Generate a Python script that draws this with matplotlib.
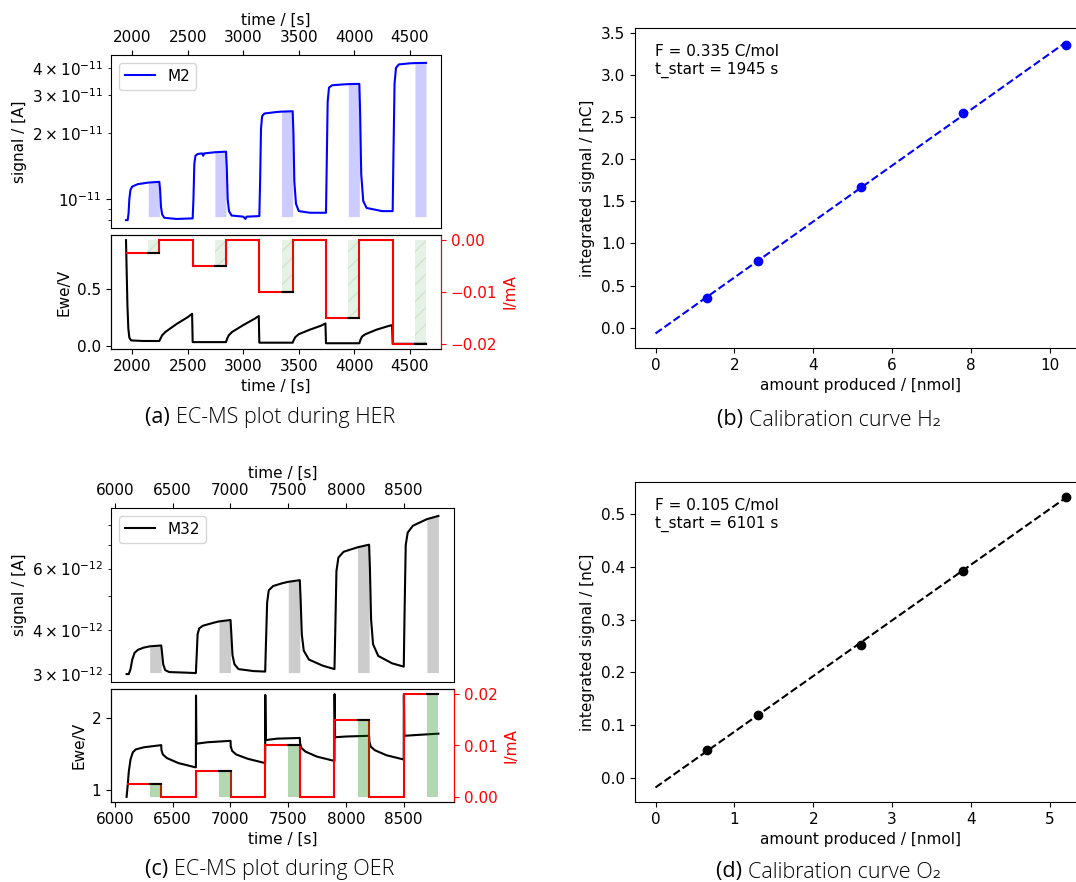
import numpy as np
import matplotlib
matplotlib.use("Agg")
import matplotlib.pyplot as plt

plt.rcParams["font.size"] = 11

# ---- HER (M2) ----
her_t = [1945, 1960, 1968, 1975, 1985, 2000, 2050, 2145, 2245, 2252, 2260, 2270, 2290, 2400, 2545,
         2552, 2560, 2570, 2590, 2630, 2640, 2648, 2745, 2845, 2852, 2860, 2872, 2895, 3000, 3020, 3030, 3145,
         3152, 3160, 3170, 3190, 3300, 3345, 3445, 3452, 3460, 3475, 3500, 3600, 3745,
         3752, 3760, 3772, 3800, 3900, 3945, 4045, 4052, 4062, 4080, 4110, 4250, 4345,
         4352, 4362, 4375, 4400, 4500, 4545, 4645]
her_ms = [0.80, 0.80, 0.86, 1.00, 1.10, 1.14, 1.17, 1.19, 1.20, 1.10, 0.92, 0.85, 0.82, 0.81, 0.815,
          1.00, 1.45, 1.58, 1.61, 1.62, 1.58, 1.62, 1.64, 1.65, 1.40, 1.00, 0.88, 0.84, 0.83, 0.81, 0.83, 0.835,
          1.20, 2.10, 2.40, 2.47, 2.51, 2.52, 2.53, 2.00, 1.20, 0.95, 0.88, 0.865, 0.865,
          1.50, 2.80, 3.25, 3.33, 3.36, 3.37, 3.38, 2.50, 1.30, 0.98, 0.91, 0.88, 0.88,
          1.60, 3.40, 4.00, 4.15, 4.20, 4.21, 4.22]
her_ms = np.array(her_ms) * 1e-11
her_ms_base = 0.83e-11

her_ewe_t = [1945, 1950, 1958, 1966, 1975, 1990, 2100, 2245, 2255, 2270, 2300, 2400, 2500, 2540,
             2545, 2845, 2855, 2870, 2900, 3000, 3100, 3140, 3145, 3445, 3455, 3470, 3500, 3600, 3700, 3740,
             3745, 4045, 4055, 4070, 4100, 4200, 4300, 4340, 4345, 4645]
her_ewe = [0.93, 0.70, 0.35, 0.15, 0.07, 0.045, 0.04, 0.04, 0.06, 0.09, 0.12, 0.19, 0.25, 0.28,
           0.03, 0.03, 0.06, 0.09, 0.12, 0.18, 0.235, 0.26, 0.025, 0.025, 0.05, 0.075, 0.10, 0.14, 0.175, 0.195,
           0.02, 0.02, 0.05, 0.08, 0.10, 0.14, 0.17, 0.18, 0.015, 0.015]

her_edges = [1945, 2245, 2545, 2845, 3145, 3445, 3745, 4045, 4345, 4645]
her_current = [-0.0025, 0, -0.005, 0, -0.01, 0, -0.015, 0, -0.02]
her_win = [(2145, 2245), (2745, 2845), (3345, 3445), (3945, 4045), (4545, 4645)]
her_win_i = [-0.0025, -0.005, -0.01, -0.015, -0.02]

# ---- OER (M32) ----
oer_t = [6101, 6120, 6135, 6150, 6170, 6200, 6250, 6301, 6401, 6408, 6418, 6435, 6470, 6600, 6701,
         6708, 6716, 6730, 6760, 6850, 6901, 7001, 7008, 7018, 7035, 7070, 7200, 7301,
         7308, 7318, 7332, 7370, 7450, 7501, 7601, 7608, 7618, 7635, 7680, 7800, 7901,
         7908, 7918, 7935, 7980, 8101, 8201, 8208, 8218, 8235, 8280, 8400, 8501,
         8508, 8518, 8535, 8580, 8701, 8801]
oer_ms = [3.00, 3.00, 3.10, 3.30, 3.45, 3.52, 3.57, 3.60, 3.62, 3.45, 3.20, 3.08, 3.04, 3.03, 3.02,
          3.40, 3.90, 4.05, 4.12, 4.20, 4.24, 4.28, 3.90, 3.40, 3.20, 3.10, 3.06, 3.05,
          3.70, 4.80, 5.20, 5.35, 5.45, 5.50, 5.56, 4.90, 3.90, 3.50, 3.30, 3.17, 3.10,
          4.00, 5.90, 6.45, 6.70, 6.90, 7.02, 6.00, 4.30, 3.65, 3.38, 3.22, 3.15,
          4.50, 7.00, 7.60, 7.95, 8.30, 8.48]
oer_ms = np.array(oer_ms) * 1e-12
oer_ms_base = 3.03e-12

oer_ewe_t = [6101, 6110, 6120, 6135, 6155, 6180, 6250, 6401, 6403, 6415, 6450, 6550, 6701,
             6702, 6706, 6800, 7001, 7003, 7015, 7050, 7150, 7301,
             7302, 7306, 7400, 7601, 7603, 7615, 7650, 7750, 7901,
             7902, 7906, 8000, 8201, 8203, 8215, 8250, 8350, 8501,
             8502, 8506, 8600, 8801]
oer_ewe = [0.90, 1.05, 1.25, 1.42, 1.52, 1.56, 1.59, 1.62, 1.55, 1.49, 1.44, 1.37, 1.31,
           2.31, 1.64, 1.66, 1.68, 1.60, 1.54, 1.49, 1.43, 1.37,
           2.32, 1.69, 1.71, 1.72, 1.65, 1.58, 1.53, 1.46, 1.40,
           2.33, 1.73, 1.74, 1.75, 1.67, 1.60, 1.55, 1.48, 1.42,
           2.32, 1.75, 1.76, 1.78]

oer_edges = [6101, 6401, 6701, 7001, 7301, 7601, 7901, 8201, 8501, 8801]
oer_current = [0.0025, 0, 0.005, 0, 0.01, 0, 0.015, 0, 0.02]
oer_win = [(6301, 6401), (6901, 7001), (7501, 7601), (8101, 8201), (8701, 8801)]
oer_win_i = [0.0025, 0.005, 0.01, 0.015, 0.02]

# ---- calibration ----
h2_n = [1.3, 2.6, 5.2, 7.8, 10.4]
h2_q = [0.348, 0.795, 1.668, 2.55, 3.36]
o2_n = [0.65, 1.3, 2.6, 3.9, 5.2]
o2_q = [0.053, 0.12, 0.252, 0.392, 0.533]

W, H = 1076, 882
fig = plt.figure(figsize=(W / 100, H / 100), dpi=100)


def box(l, t, r, b):
    return [l / W, 1 - b / H, (r - l) / W, (b - t) / H]


def ecms(pos_top, pos_bot, t, ms, base, col, name, et, ewe,
         edges, cur, wins, wi, hatch, galpha, ewe_ticks):
    ax1 = fig.add_axes(pos_top)
    ax2 = fig.add_axes(pos_bot, sharex=ax1)
    ax1.plot(t, ms, color=col, label=name)
    ax1.set_yscale("log")
    ta = np.array(t)
    for (a, b) in wins:
        m = (ta >= a) & (ta <= b)
        ax1.fill_between(ta[m], base, ms[m], color=col, alpha=0.2, linewidth=0)
    ax1.set_ylabel("signal / [A]")
    ax1.xaxis.set_label_position("top")
    ax1.set_xlabel("time / [s]")
    ax1.tick_params(axis="x", bottom=False, labelbottom=False, top=True, labeltop=True)
    ax1.legend(loc="upper left")

    ax2.plot(et, ewe, color="k")
    ax2.set_yticks(ewe_ticks)
    ax2.set_ylabel("Ewe/V")
    ax2.set_xlabel("time / [s]")
    ax3 = ax2.twinx()
    ax3.stairs(cur, edges, baseline=None, color="r", linewidth=1.5)
    for (a, b), lv in zip(wins, wi):
        ax3.fill_between([a, b], 0, lv, color="green", alpha=galpha, hatch=hatch, linewidth=0)
        ax3.plot([a, b], [lv, lv], color="k")
    ax3.set_ylabel("I/mA", color="r")
    ax3.tick_params(axis="y", colors="r")
    ax3.spines["right"].set_color("r")
    return ax1, ax2, ax3


ecms(box(111, 55, 441, 228), box(111, 235, 441, 349), her_t, her_ms, her_ms_base, "blue", "M2",
     her_ewe_t, her_ewe, her_edges, her_current, her_win, her_win_i, "//", 0.1, [0.0, 0.5])
ecms(box(111, 508, 454, 682), box(111, 689, 454, 802), oer_t, oer_ms, oer_ms_base, "k", "M32",
     oer_ewe_t, oer_ewe, oer_edges, oer_current, oer_win, oer_win_i, None, 0.3, [1, 2])


def calib(pos, n, q, col, F, ts):
    ax = fig.add_axes(pos)
    p = np.polyfit(n, q, 1)
    xs = np.array([0, n[-1]])
    ax.plot(xs, np.polyval(p, xs), "--", color=col)
    ax.plot(n, q, "o", color=col)
    ax.text(0.045, 0.95, "F = %s C/mol\nt_start = %s s" % (F, ts), transform=ax.transAxes, va="top")
    ax.set_xlabel("amount produced / [nmol]")
    ax.set_ylabel("integrated signal / [nC]")
    return ax


calib(box(635, 28, 1086, 348), h2_n, h2_q, "blue", "0.335", "1945")
calib(box(635, 482, 1086, 802), o2_n, o2_q, "k", "0.105", "6101")

# captions: "(x)" in regular weight, the rest in light
fam = ["Open Sans", "DejaVu Sans"]
renderer = fig.canvas.get_renderer()


def caption(xc, yc, tag, rest):
    t1 = fig.text(0, 1 - yc / H, tag + " ", fontsize=15.5, family=fam, color="black", va="center")
    t2 = fig.text(0, 1 - yc / H, rest, fontsize=15.5, family=fam, color="black",
                  fontweight="light", va="center")
    w1 = t1.get_window_extent(renderer).width
    w2 = t2.get_window_extent(renderer).width
    x0 = xc - (w1 + w2) / 2
    t1.set_x(x0 / W)
    t2.set_x((x0 + w1) / W)


caption(270, 418, "(a)", "EC-MS plot during HER")
caption(829, 420, "(b)", "Calibration curve H\u2082")
caption(270, 870, "(c)", "EC-MS plot during OER")
caption(829, 872, "(d)", "Calibration curve O\u2082")

fig.savefig("out.png", dpi=100)
